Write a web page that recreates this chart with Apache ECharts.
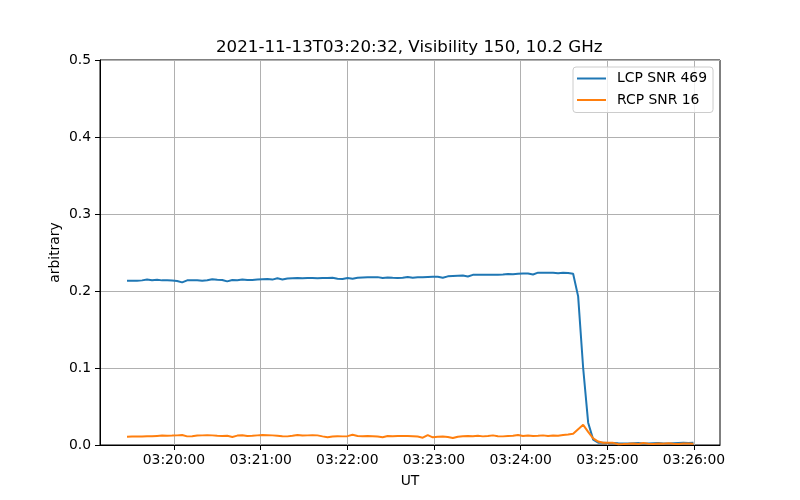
<!DOCTYPE html>
<html>
<head>
<meta charset="utf-8">
<script src="https://cdn.jsdelivr.net/npm/echarts@6/dist/echarts.min.js"></script>
<style>html,body{margin:0;padding:0;background:#fff}#c{width:800px;height:500px}</style>
</head>
<body>
<div id="c"></div>
<script>
// Sample timing (seconds since 00:00 UT)
const sampleStartSec = 11967.5;
const sampleStepSec = 3.47;

const lcpValues = [
  0.2134,0.2134,0.2132,0.2138,0.2148,0.2140,0.2145,0.2138,0.2140,0.2135,
  0.2130,0.2112,0.2138,0.2140,0.2140,0.2132,0.2140,0.2153,0.2145,0.2143,
  0.2125,0.2143,0.2140,0.2148,0.2143,0.2143,0.2148,0.2152,0.2155,0.2148,
  0.2165,0.2150,0.2162,0.2165,0.2168,0.2165,0.2170,0.2168,0.2165,0.2170,
  0.2168,0.2172,0.2160,0.2155,0.2168,0.2160,0.2172,0.2175,0.2177,0.2178,
  0.2180,0.2168,0.2175,0.2172,0.2170,0.2172,0.2182,0.2172,0.2178,0.2178,
  0.2182,0.2185,0.2185,0.2172,0.2190,0.2195,0.2198,0.2200,0.2188,0.2210,
  0.2212,0.2210,0.2210,0.2210,0.2212,0.2215,0.2220,0.2218,0.2225,0.2228,
  0.2228,0.2215,0.2238,0.2236,0.2237,0.2236,0.2230,0.2238,0.2235,0.2225,
  0.1930,0.1000,0.0290,0.0070,0.0030,0.0030,0.0025,0.0025,0.0022,0.0020,
  0.0018,0.0022,0.0025,0.0020,0.0018,0.0022,0.0025,0.0020,0.0018,0.0022,
  0.0025,0.0028,0.0025,0.0030
];

const rcpValues = [
  0.0108,0.0110,0.0112,0.0110,0.0115,0.0113,0.0118,0.0122,0.0120,0.0122,
  0.0125,0.0130,0.0112,0.0115,0.0122,0.0125,0.0128,0.0125,0.0120,0.0118,
  0.0120,0.0105,0.0122,0.0128,0.0118,0.0120,0.0125,0.0130,0.0128,0.0125,
  0.0120,0.0115,0.0112,0.0120,0.0130,0.0122,0.0125,0.0128,0.0125,0.0112,
  0.0100,0.0110,0.0115,0.0112,0.0115,0.0132,0.0118,0.0115,0.0117,0.0115,
  0.0110,0.0100,0.0118,0.0115,0.0118,0.0116,0.0118,0.0115,0.0110,0.0095,
  0.0128,0.0100,0.0108,0.0110,0.0105,0.0090,0.0108,0.0115,0.0118,0.0115,
  0.0120,0.0112,0.0118,0.0125,0.0115,0.0112,0.0118,0.0120,0.0130,0.0118,
  0.0122,0.0118,0.0120,0.0125,0.0118,0.0122,0.0120,0.0130,0.0135,0.0145,
  0.0205,0.0262,0.0170,0.0085,0.0045,0.0030,0.0030,0.0028,0.0010,0.0012,
  0.0015,0.0020,0.0012,0.0025,0.0015,0.0012,0.0020,0.0015,0.0022,0.0015,
  0.0012,0.0020,0.0018,0.0015
];

const seriesNames = ['LCP SNR 469', 'RCP SNR 16'];
const xTickSec = [12000, 12060, 12120, 12180, 12240, 12300, 12360];
const yTicks = [0.0, 0.1, 0.2, 0.3, 0.4, 0.5];
const titleText = '2021-11-13T03:20:32, Visibility 150, 10.2 GHz';

function pair(vals) {
  return vals.map((v, i) => [sampleStartSec + i * sampleStepSec, v]);
}
function fmtTime(s) {
  s = Math.round(s);
  const h = Math.floor(s / 3600), m = Math.floor((s % 3600) / 60), sec = s % 60;
  const p = n => (n < 10 ? '0' : '') + n;
  return p(h) + ':' + p(m) + ':' + p(sec);
}

const FONT = 'DejaVu Sans';
const chart = echarts.init(document.getElementById('c'), null, {renderer: 'canvas'});
chart.setOption({
  animation: false,
  backgroundColor: '#fff',
  textStyle: {fontFamily: FONT},
  title: {
    text: titleText,
    left: 216, top: 39, padding: 0,
    textStyle: {fontFamily: FONT, fontSize: 16.67, fontWeight: 'normal', color: '#000'}
  },
  legend: {
    data: seriesNames,
    orient: 'vertical',
    left: 573, top: 67,
    padding: [3.5, 6, 4.5, 4],
    itemGap: 5.5,
    itemWidth: 29, itemHeight: 2,
    icon: 'rect',
    borderColor: '#cccccc', borderWidth: 1, borderRadius: 3,
    backgroundColor: 'rgba(255,255,255,0.8)',
    textStyle: {fontFamily: FONT, fontSize: 13.9, color: '#000', lineHeight: 16, padding: [0, 0, 0, 6]}
  },
  grid: {
    left: 100, right: 80, top: 60, bottom: 55,
    show: true, borderColor: '#000', borderWidth: 1, backgroundColor: 'transparent'
  },
  xAxis: {
    type: 'value',
    min: 11948.8, max: 12378,
    name: 'UT', nameLocation: 'middle', nameGap: 29, nameMoveOverlap: false,
    nameTextStyle: {fontFamily: FONT, fontSize: 13.9, color: '#000'},
    axisLine: {show: true, onZero: false, lineStyle: {color: '#000', width: 1}},
    axisTick: {show: true, length: 5, customValues: xTickSec, lineStyle: {color: '#000', width: 1}},
    axisLabel: {customValues: xTickSec, margin: 8, fontFamily: FONT, fontSize: 13.9, color: '#000',
      formatter: v => fmtTime(v)},
    splitLine: {show: true, lineStyle: {color: '#b0b0b0', width: 1}}
  },
  yAxis: {
    type: 'value',
    min: 0, max: 0.5, interval: 0.1,
    name: 'arbitrary', nameLocation: 'middle', nameGap: 38, nameRotate: 90, nameMoveOverlap: false,
    nameTextStyle: {fontFamily: FONT, fontSize: 13.9, color: '#000'},
    axisLine: {show: true, lineStyle: {color: '#000', width: 1}},
    axisTick: {show: true, length: 5, lineStyle: {color: '#000', width: 1}},
    axisLabel: {margin: 9, fontFamily: FONT, fontSize: 13.9, color: '#000',
      formatter: v => v.toFixed(1)},
    splitLine: {show: true, lineStyle: {color: '#b0b0b0', width: 1}}
  },
  series: [
    {name: seriesNames[0], type: 'line', data: pair(lcpValues), showSymbol: false, symbol: 'none',
      color: '#1f77b4', lineStyle: {color: '#1f77b4', width: 2}},
    {name: seriesNames[1], type: 'line', data: pair(rcpValues), showSymbol: false, symbol: 'none',
      color: '#ff7f0e', lineStyle: {color: '#ff7f0e', width: 2}}
  ]
});
</script>
</body>
</html>
